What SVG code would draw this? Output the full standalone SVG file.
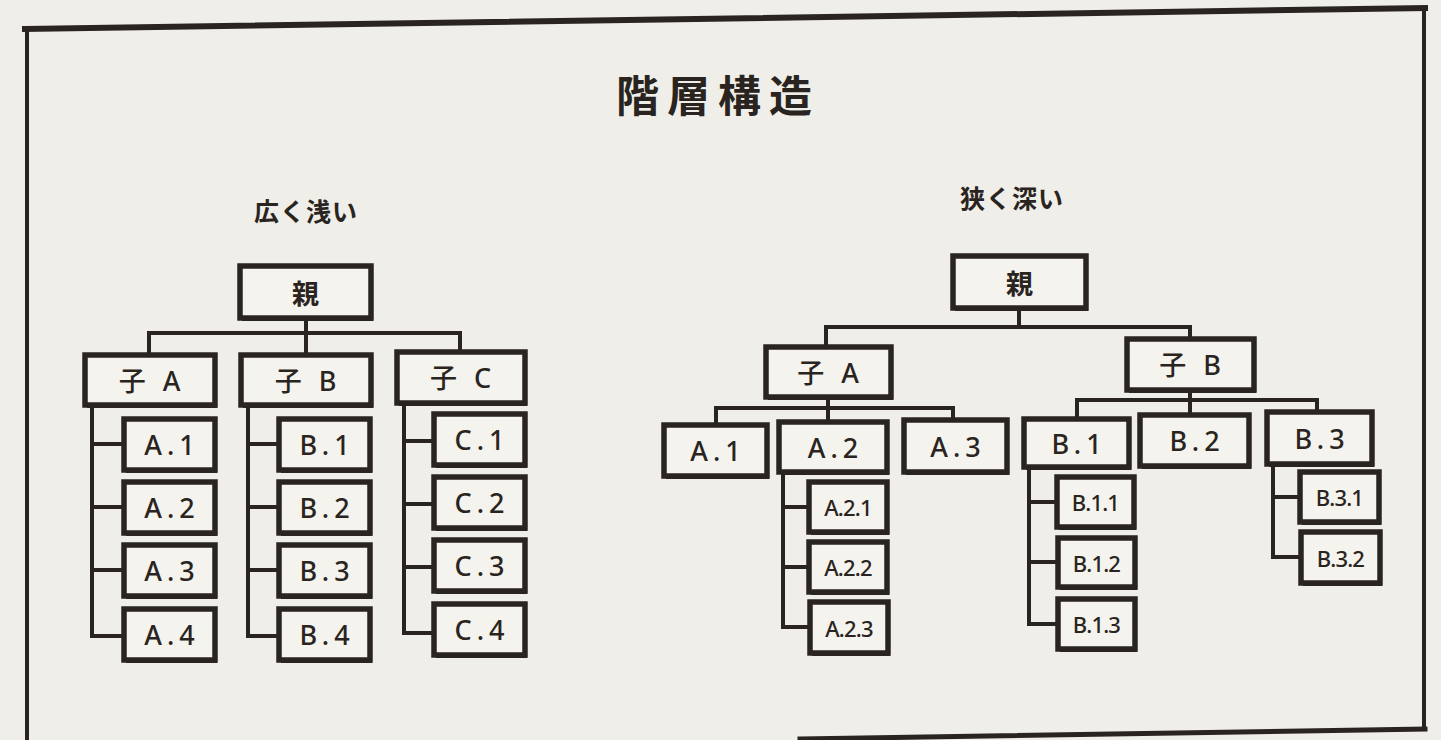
<svg xmlns="http://www.w3.org/2000/svg" width="1441" height="740" viewBox="0 0 1441 740">
<style>
.bg{fill:#efeee8}
.frame{stroke:#2a2420;fill:none;stroke-linecap:square}
.sh{fill:#2a2420}
.box{fill:#f4f3ee;stroke:#2a2420;stroke-width:5.5}
.ln{stroke:#2a2420;stroke-width:4;fill:none;stroke-linejoin:miter}
.t{font-family:"Noto Sans","Noto Sans CJK JP",sans-serif;font-size:27px;font-weight:500;fill:#2a2420;text-anchor:middle;dominant-baseline:central;letter-spacing:5px}
.s{font-family:"Noto Sans","Noto Sans CJK JP",sans-serif;font-size:22px;font-weight:500;fill:#2a2420;text-anchor:middle;dominant-baseline:central;letter-spacing:-0.8px}
.k{font-family:"Noto Sans CJK JP",sans-serif;font-weight:700;fill:#2a2420;text-anchor:middle;dominant-baseline:central}
.h{font-family:"Noto Sans CJK JP",sans-serif;font-weight:700;fill:#2a2420}
</style>
<rect class="bg" x="0" y="0" width="1441" height="740"/>
<g id="frame">
<line class="frame" x1="25" y1="29" x2="1425" y2="8" stroke-width="6"/>
<line class="frame" x1="27" y1="29" x2="27" y2="740" stroke-width="4"/>
<line class="frame" x1="1424" y1="8" x2="1424" y2="728" stroke-width="4"/>
<line class="frame" x1="800" y1="739" x2="1425" y2="729" stroke-width="5"/>
</g>
<text class="h" x="718" y="112" font-size="43" text-anchor="middle" letter-spacing="8">階層構造</text>
<text class="h" x="306" y="221" font-size="25" text-anchor="middle" letter-spacing="1">広く浅い</text>
<text class="h" x="1012" y="208" font-size="25" text-anchor="middle" letter-spacing="1">狭く深い</text>

<g id="connectors">
<path class="ln" d="M306 318V333M149 355V333H460V352M306 333V355"/>
<path class="ln" d="M92 405V636H124M92 444H124M92 507H124M92 570H124"/>
<path class="ln" d="M248 405V636H279M248 444H279M248 507H279M248 570H279"/>
<path class="ln" d="M404 403V633H434M404 441H434M404 504H434M404 567H434"/>
<path class="ln" d="M1019 308V327M826 347V327H1190V339"/>
<path class="ln" d="M828 397V408M716 425V408H953V420M828 408V422"/>
<path class="ln" d="M783 472V627H809M783 507H809M783 567H809"/>
<path class="ln" d="M1190 390V400M1077 419V400H1317V412M1190 400V415"/>
<path class="ln" d="M1029 467V624H1058M1029 502H1057M1029 562H1058"/>
<path class="ln" d="M1273 464V557H1301M1273 497H1300"/>
</g>

<g id="L-root"><rect class="sh" x="242" y="269" width="131" height="52"/><rect class="box" x="240" y="266" width="131" height="52"/><text class="k" x="305.5" y="292" font-size="27">親</text></g>
<g id="L-A"><rect class="sh" x="87" y="358" width="130" height="50"/><rect class="box" x="85" y="355" width="130" height="50"/><text class="t" x="152" y="380">子 A</text></g>
<g id="L-B"><rect class="sh" x="243" y="358" width="130" height="50"/><rect class="box" x="241" y="355" width="130" height="50"/><text class="t" x="308" y="380">子 B</text></g>
<g id="L-C"><rect class="sh" x="399" y="355" width="128" height="51"/><rect class="box" x="397" y="352" width="128" height="51"/><text class="t" x="463" y="377.5">子 C</text></g>

<g id="L-A1"><rect class="sh" x="126" y="422" width="91" height="51"/><rect class="box" x="124" y="419" width="91" height="51"/><text class="t" x="172" y="444.5">A.1</text></g>
<g id="L-A2"><rect class="sh" x="126" y="485" width="91" height="51"/><rect class="box" x="124" y="482" width="91" height="51"/><text class="t" x="172" y="507.5">A.2</text></g>
<g id="L-A3"><rect class="sh" x="126" y="548" width="91" height="51"/><rect class="box" x="124" y="545" width="91" height="51"/><text class="t" x="172" y="570.5">A.3</text></g>
<g id="L-A4"><rect class="sh" x="126" y="612" width="91" height="51"/><rect class="box" x="124" y="609" width="91" height="51"/><text class="t" x="172" y="634.5">A.4</text></g>

<g id="L-B1"><rect class="sh" x="281" y="422" width="91" height="51"/><rect class="box" x="279" y="419" width="91" height="51"/><text class="t" x="327" y="444.5">B.1</text></g>
<g id="L-B2"><rect class="sh" x="281" y="485" width="91" height="51"/><rect class="box" x="279" y="482" width="91" height="51"/><text class="t" x="327" y="507.5">B.2</text></g>
<g id="L-B3"><rect class="sh" x="281" y="548" width="91" height="51"/><rect class="box" x="279" y="545" width="91" height="51"/><text class="t" x="327" y="570.5">B.3</text></g>
<g id="L-B4"><rect class="sh" x="281" y="612" width="91" height="51"/><rect class="box" x="279" y="609" width="91" height="51"/><text class="t" x="327" y="634.5">B.4</text></g>

<g id="L-C1"><rect class="sh" x="436" y="417" width="91" height="51"/><rect class="box" x="434" y="414" width="91" height="51"/><text class="t" x="482" y="439.5">C.1</text></g>
<g id="L-C2"><rect class="sh" x="436" y="480" width="91" height="51"/><rect class="box" x="434" y="477" width="91" height="51"/><text class="t" x="482" y="502.5">C.2</text></g>
<g id="L-C3"><rect class="sh" x="436" y="543" width="91" height="51"/><rect class="box" x="434" y="540" width="91" height="51"/><text class="t" x="482" y="565.5">C.3</text></g>
<g id="L-C4"><rect class="sh" x="436" y="607" width="91" height="51"/><rect class="box" x="434" y="604" width="91" height="51"/><text class="t" x="482" y="629.5">C.4</text></g>

<g id="R-root"><rect class="sh" x="955" y="259" width="133" height="52"/><rect class="box" x="953" y="256" width="133" height="52"/><text class="k" x="1019.5" y="282" font-size="27">親</text></g>
<g id="R-A"><rect class="sh" x="768" y="350" width="125" height="50"/><rect class="box" x="766" y="347" width="125" height="50"/><text class="t" x="830.5" y="372">子 A</text></g>
<g id="R-B"><rect class="sh" x="1129" y="342" width="127" height="51"/><rect class="box" x="1127" y="339" width="127" height="51"/><text class="t" x="1192.5" y="364.5">子 B</text></g>

<g id="R-A1"><rect class="sh" x="666" y="428" width="103" height="51"/><rect class="box" x="664" y="425" width="103" height="51"/><text class="t" x="718" y="450.5">A.1</text></g>
<g id="R-A2"><rect class="sh" x="781" y="425" width="108" height="50"/><rect class="box" x="779" y="422" width="108" height="50"/><text class="t" x="835.5" y="447">A.2</text></g>
<g id="R-A3"><rect class="sh" x="906" y="423" width="103" height="52"/><rect class="box" x="904" y="420" width="103" height="52"/><text class="t" x="958" y="446">A.3</text></g>

<g id="R-A21"><rect class="sh" x="811" y="485" width="78" height="50"/><rect class="box" x="809" y="482" width="78" height="50"/><text class="s" x="848" y="507">A.2.1</text></g>
<g id="R-A22"><rect class="sh" x="811" y="545" width="78" height="50"/><rect class="box" x="809" y="542" width="78" height="50"/><text class="s" x="848" y="567">A.2.2</text></g>
<g id="R-A23"><rect class="sh" x="812" y="605" width="78" height="51"/><rect class="box" x="810" y="602" width="78" height="51"/><text class="s" x="849" y="627.5">A.2.3</text></g>

<g id="R-B1"><rect class="sh" x="1026" y="422" width="105" height="48"/><rect class="box" x="1024" y="419" width="105" height="48"/><text class="t" x="1079" y="443">B.1</text></g>
<g id="R-B2"><rect class="sh" x="1142" y="418" width="109" height="51"/><rect class="box" x="1140" y="415" width="109" height="51"/><text class="t" x="1197" y="440.5">B.2</text></g>
<g id="R-B3"><rect class="sh" x="1269" y="415" width="105" height="52"/><rect class="box" x="1267" y="412" width="105" height="52"/><text class="t" x="1322" y="438">B.3</text></g>

<g id="R-B11"><rect class="sh" x="1059" y="480" width="77" height="50"/><rect class="box" x="1057" y="477" width="77" height="50"/><text class="s" x="1095.5" y="502">B.1.1</text></g>
<g id="R-B12"><rect class="sh" x="1060" y="541" width="77" height="49"/><rect class="box" x="1058" y="538" width="77" height="49"/><text class="s" x="1096.5" y="562.5">B.1.2</text></g>
<g id="R-B13"><rect class="sh" x="1060" y="602" width="77" height="50"/><rect class="box" x="1058" y="599" width="77" height="50"/><text class="s" x="1096.5" y="624">B.1.3</text></g>

<g id="R-B31"><rect class="sh" x="1302" y="475" width="79" height="50"/><rect class="box" x="1300" y="472" width="79" height="50"/><text class="s" x="1339.5" y="497">B.3.1</text></g>
<g id="R-B32"><rect class="sh" x="1303" y="535" width="79" height="51"/><rect class="box" x="1301" y="532" width="79" height="51"/><text class="s" x="1340.5" y="557.5">B.3.2</text></g>
</svg>
